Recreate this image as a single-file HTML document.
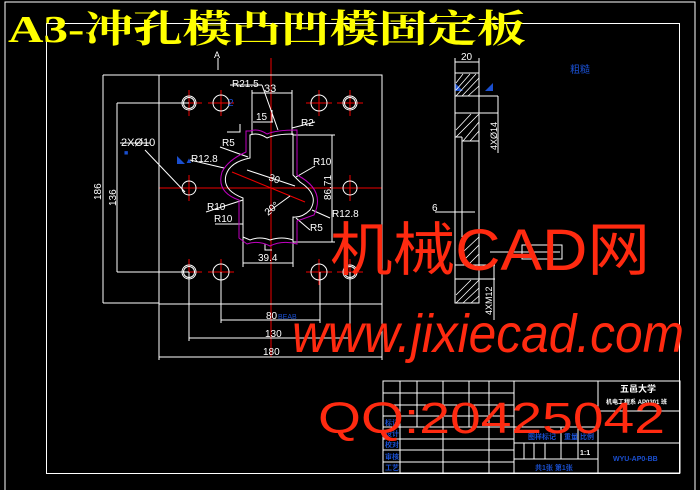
<!DOCTYPE html>
<html><head><meta charset="utf-8"><style>
html,body{margin:0;padding:0;background:#000;}
svg{display:block}
</style></head><body>
<svg width="700" height="490" viewBox="0 0 700 490" xmlns="http://www.w3.org/2000/svg" font-family="Liberation Sans, Noto Sans CJK SC, sans-serif">
<rect width="700" height="490" fill="#000"/>
<!-- borders -->
<g fill="none" stroke="#fff" stroke-width="1">
<rect x="5" y="2" width="690" height="500"/>
<rect x="46.5" y="23.5" width="633" height="450"/>
</g>
<!-- title -->
<text x="8" y="42" fill="#ffff00" font-size="38" font-weight="bold" font-family="Liberation Serif, Noto Serif CJK SC, serif" textLength="518" lengthAdjust="spacingAndGlyphs">A3-冲孔模凸凹模固定板</text>

<!-- red centerlines -->
<g stroke="#e00" stroke-width="1">
<line x1="271" y1="58" x2="271" y2="357"/>
<line x1="159" y1="188" x2="382" y2="188"/>
<line x1="176" y1="103" x2="202" y2="103"/><line x1="189" y1="90" x2="189" y2="116"/>
<line x1="208" y1="103" x2="234" y2="103"/><line x1="221" y1="90" x2="221" y2="116"/>
<line x1="306" y1="103" x2="332" y2="103"/><line x1="319" y1="90" x2="319" y2="116"/>
<line x1="337" y1="103" x2="363" y2="103"/><line x1="350" y1="90" x2="350" y2="116"/>
<line x1="189" y1="175" x2="189" y2="201"/><line x1="350" y1="175" x2="350" y2="201"/>
<line x1="176" y1="272" x2="202" y2="272"/><line x1="189" y1="259" x2="189" y2="285"/>
<line x1="208" y1="272" x2="234" y2="272"/><line x1="221" y1="259" x2="221" y2="285"/>
<line x1="306" y1="272" x2="332" y2="272"/><line x1="319" y1="259" x2="319" y2="285"/>
<line x1="337" y1="272" x2="363" y2="272"/><line x1="350" y1="259" x2="350" y2="285"/>
<line x1="232" y1="172" x2="305" y2="202"/>
</g>

<!-- plate -->
<g fill="none" stroke="#fff" stroke-width="1">
<rect x="159" y="75" width="223" height="229"/>
<line x1="103" y1="75" x2="159" y2="75"/>
<line x1="103" y1="303" x2="159" y2="303"/>
<line x1="103" y1="75" x2="103" y2="303"/>
<line x1="117" y1="103" x2="117" y2="272"/>
<line x1="117" y1="103" x2="189" y2="103"/>
<line x1="117" y1="272" x2="189" y2="272"/>
<line x1="159" y1="304" x2="159" y2="360"/>
<line x1="382" y1="304" x2="382" y2="360"/>
<line x1="159" y1="357" x2="382" y2="357"/>
<line x1="189" y1="272" x2="189" y2="341"/>
<line x1="350" y1="272" x2="350" y2="341"/>
<line x1="189" y1="338" x2="350" y2="338"/>
<line x1="221" y1="272" x2="221" y2="323"/>
<line x1="320" y1="272" x2="320" y2="323"/>
<line x1="221" y1="320" x2="320" y2="320"/>
<line x1="243" y1="237" x2="243" y2="267"/>
<line x1="293" y1="240" x2="293" y2="267"/>
<line x1="243" y1="263" x2="293" y2="263"/>
<line x1="293" y1="135" x2="335" y2="135"/>
<line x1="293" y1="242" x2="335" y2="242"/>
<line x1="332" y1="135" x2="332" y2="242"/>
<line x1="252" y1="93" x2="292" y2="93"/>
<line x1="252" y1="90" x2="252" y2="135"/>
<line x1="292" y1="90" x2="292" y2="135"/>
<line x1="253" y1="122" x2="273" y2="122"/>
<line x1="272" y1="110" x2="272" y2="122"/>
<!-- holes -->
<circle cx="189" cy="103" r="7"/><circle cx="189" cy="103" r="5.5"/>
<circle cx="221" cy="103" r="8"/>
<circle cx="319" cy="103" r="8"/>
<circle cx="350" cy="103" r="7"/><circle cx="350" cy="103" r="5.5"/>
<circle cx="189" cy="188" r="7"/>
<circle cx="350" cy="188" r="7"/>
<circle cx="189" cy="272" r="7"/><circle cx="189" cy="272" r="5.5"/>
<circle cx="221" cy="272" r="8"/>
<circle cx="319" cy="272" r="8"/>
<circle cx="350" cy="272" r="7"/><circle cx="350" cy="272" r="5.5"/>
<!-- punch outline -->
<path d="M250 135 Q258 132 267 138 Q276 134 293 134 L293 175 L300 182 Q320 195 310 210 Q302 218 293 217 L293 240 Q282 236 270 240 Q260 236 250 240 L243 237 L243 198 Q222 190 226 175 Q230 162 250 158 Z"/>
<!-- leaders -->
<line x1="230" y1="85" x2="262" y2="85"/>
<line x1="262" y1="85" x2="278" y2="130"/>
<line x1="292" y1="128" x2="315" y2="122"/>
<line x1="220" y1="147" x2="248" y2="157"/>
<line x1="190" y1="160" x2="224" y2="168"/>
<line x1="145" y1="150" x2="185" y2="192"/>
<line x1="120" y1="143" x2="150" y2="143"/>
<line x1="296" y1="177" x2="315" y2="166"/>
<line x1="206" y1="212" x2="243" y2="200"/>
<line x1="215" y1="224" x2="243" y2="224"/>
<line x1="312" y1="210" x2="330" y2="218"/>
<line x1="296" y1="218" x2="310" y2="230"/>
<line x1="247" y1="170" x2="295" y2="186"/>
<line x1="268" y1="212" x2="290" y2="196"/>
<polyline points="240,124 240,132 227,132"/>
<polyline points="265,244 265,250 272,250"/>
<line x1="218" y1="58" x2="218" y2="70"/>
</g>
<path d="M250 131 Q258 128 267 134 Q276 130 297 130 L297 175 Q326 190 314 215 L297 221 L297 244 Q282 240 270 246 Q258 240 247 244 L239 238 L239 200 Q216 192 222 172 Q228 160 246 152 L246 131 Z" fill="none" stroke="#c000c0" stroke-width="1"/>

<!-- dimension text -->
<g fill="#fff" font-size="10">
<text x="264" y="92" font-size="11">33</text>
<text x="256" y="120">15</text>
<text x="232" y="87">R21.5</text>
<text x="301" y="126">R2</text>
<text x="222" y="146">R5</text>
<text x="191" y="162">R12.8</text>
<text x="121" y="146" font-size="11">2XØ10</text>
<text x="313" y="165">R10</text>
<text x="268" y="180" transform="rotate(20 268 180)">30</text>
<text x="207" y="210">R10</text>
<text x="214" y="222">R10</text>
<text x="268" y="216" transform="rotate(-40 268 216)">20°</text>
<text x="332" y="217">R12.8</text>
<text x="310" y="231">R5</text>
<text x="258" y="261">39.4</text>
<text x="266" y="319">80</text>
<text x="265" y="337">130</text>
<text x="263" y="355">180</text>
<text x="214" y="58" font-size="9">A</text>
<text x="331" y="200" transform="rotate(-90 331 200)">86.71</text>
<text x="116" y="206" transform="rotate(-90 116 206)">136</text>
<text x="101" y="200" transform="rotate(-90 101 200)">186</text>
</g>
<g fill="#1a4fd0" font-size="7">
<text x="278" y="319">BEAB</text>
<text x="228" y="106" font-size="10">2</text>
<text x="177" y="163" font-size="8">◣▲</text>
<text x="124" y="155" font-size="7">■</text>
<text x="570" y="73" font-size="10">粗糙</text>
<text x="455" y="90" font-size="8">◣</text>
<text x="485" y="90" font-size="8">◢</text>
</g>

<!-- side view -->
<g fill="none" stroke="#fff" stroke-width="1">
<rect x="455" y="73" width="24" height="230"/>
<line x1="455" y1="96" x2="479" y2="96"/>
<line x1="455" y1="113" x2="498" y2="113"/>
<line x1="455" y1="96" x2="498" y2="96"/>
<line x1="455" y1="137" x2="462" y2="137"/>
<line x1="462" y1="137" x2="462" y2="237"/>
<line x1="462" y1="141" x2="479" y2="141"/>
<line x1="455" y1="265" x2="495" y2="265"/>
<line x1="455" y1="279" x2="495" y2="279"/>
<line x1="455" y1="62" x2="479" y2="62"/>
<line x1="455" y1="58" x2="455" y2="73"/><line x1="479" y1="58" x2="479" y2="73"/>
<line x1="498" y1="96" x2="498" y2="153"/>
<line x1="494" y1="265" x2="494" y2="320"/>
<line x1="435" y1="212" x2="475" y2="212"/>
<line x1="490" y1="252" x2="560" y2="252"/>
<rect x="522" y="245" width="40" height="14"/>
</g>
<g stroke="#fff" stroke-width="0.8">
<path d="M456 90 L470 74 M456 96 L476 74 M462 96 L479 78 M468 96 L479 86 M456 83 L463 74"/>
<path d="M456 130 L471 114 M456 137 L479 114 M463 141 L479 122 M470 141 L479 131"/>
<path d="M463 252 L479 237 M463 261 L479 245 M468 265 L479 254"/>
<path d="M456 295 L471 280 M456 303 L479 280 M463 303 L479 288 M471 303 L479 296"/>
</g>
<g fill="#fff" font-size="10">
<text x="461" y="60">20</text>
<text x="432" y="211">6</text>
<text x="497" y="150" transform="rotate(-90 497 150)" font-size="9">4XØ14</text>
<text x="492" y="315" transform="rotate(-90 492 315)" font-size="9">4XM12</text>
</g>

<!-- title block -->
<g fill="none" stroke="#fff" stroke-width="1">
<rect x="383" y="381" width="297" height="92"/>
<line x1="383" y1="393" x2="514" y2="393"/>
<line x1="383" y1="405" x2="514" y2="405"/>
<line x1="383" y1="416" x2="514" y2="416"/>
<line x1="383" y1="427" x2="598" y2="427"/>
<line x1="383" y1="439" x2="514" y2="439"/>
<line x1="383" y1="450" x2="514" y2="450"/>
<line x1="383" y1="462" x2="514" y2="462"/>
<line x1="400" y1="381" x2="400" y2="473"/>
<line x1="417" y1="381" x2="417" y2="427"/>
<line x1="443" y1="381" x2="443" y2="473"/>
<line x1="469" y1="381" x2="469" y2="427"/>
<line x1="489" y1="381" x2="489" y2="473"/>
<line x1="514" y1="381" x2="514" y2="473"/>
<line x1="598" y1="381" x2="598" y2="473"/>
<line x1="514" y1="443" x2="598" y2="443"/>
<line x1="514" y1="459" x2="598" y2="459"/>
<line x1="561" y1="427" x2="561" y2="459"/>
<line x1="578" y1="427" x2="578" y2="459"/>
<line x1="524" y1="443" x2="524" y2="459"/>
<line x1="534" y1="443" x2="534" y2="459"/>
<line x1="545" y1="443" x2="545" y2="459"/>
<line x1="598" y1="411" x2="680" y2="411"/>
<line x1="598" y1="443" x2="680" y2="443"/>
</g>
<g fill="#fff" font-size="8" font-weight="bold">
<text x="620" y="392" font-size="9">五邑大学</text>
<text x="606" y="404" font-size="6">机电工程系 AP0301 班</text>
<text x="580" y="455" font-size="7">1:1</text>
</g>
<g fill="#1a4fd0" font-size="7" font-weight="bold">
<text x="385" y="425">标记</text><text x="385" y="436">设计</text><text x="385" y="447">校对</text><text x="385" y="459">审核</text><text x="385" y="470">工艺</text>
<text x="528" y="439">图样标记</text><text x="564" y="439">重量</text><text x="580" y="439">比例</text>
<text x="535" y="470">共1张 第1张</text>
<text x="613" y="461">WYU-AP0-BB</text>
</g>

<!-- watermarks -->
<g fill="#ff2a10" font-family="Liberation Sans, Noto Sans CJK SC, sans-serif">
<text x="330" y="270" font-size="58" textLength="320" lengthAdjust="spacingAndGlyphs">机械CAD网</text>
<text x="292" y="352" font-size="54" font-style="italic" textLength="392" lengthAdjust="spacingAndGlyphs">www.jixiecad.com</text>
<text x="318" y="433" font-size="44" textLength="347" lengthAdjust="spacingAndGlyphs">QQ:20425042</text>
</g>
</svg>
</body></html>
